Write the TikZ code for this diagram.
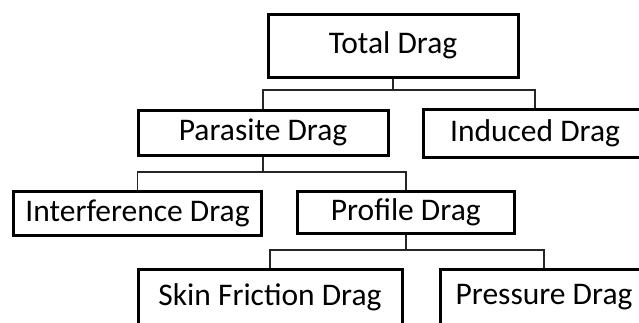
\documentclass[tikz,border=0pt]{standalone}
\usepackage{fontspec}
\setmainfont{Carlito}

\begin{document}
\begin{tikzpicture}[x=1pt, y=-1pt, line width=1pt,
    box/.style={draw, line width=3pt, inner sep=0pt, font=\fontsize{31.5}{36}\selectfont},
    link/.style={draw=black!85, line width=1.5pt}]
    % Frame
    \useasboundingbox (0,0) rectangle (639,322);
    \clip (0,0) rectangle (639,322);

    % Top level
    \node[box, minimum width=250pt, minimum height=63pt] (total) at (393,45.5) {Total Drag};

    % Second level
    \node[box, minimum width=250pt, minimum height=45pt] (parasite) at (263,132.5) {Parasite Drag};
    \node[box, minimum width=223pt, minimum height=48pt] (induced) at (535,133) {Induced Drag};

    % Third level
    \node[box, minimum width=248pt, minimum height=44pt] (interference) at (137.5,213) {Interference Drag};
    \node[box, minimum width=217pt, minimum height=42pt] (profile) at (405.8,212) {Profile Drag};

    % Fourth level
    \node[box, minimum width=264pt, minimum height=55pt] (skin) at (270,297) {Skin Friction Drag};
    \node[box, minimum width=207pt, minimum height=55pt] (pressure) at (544,297) {Pressure Drag};

    % Connectors
    \draw[link] (total.south) -- ++(0,11.5) -| (parasite.north);
    \draw[link] (total.south) -- ++(0,11.5) -| (induced.north);
    \draw[link] (parasite.south) -- ++(0,15.5) -| (interference.north);
    \draw[link] (parasite.south) -- ++(0,15.5) -| (profile.north);
    \draw[link] (profile.south) -- ++(0,15.5) -| (skin.north);
    \draw[link] (profile.south) -- ++(0,15.5) -| (pressure.north);
\end{tikzpicture}
\end{document}
